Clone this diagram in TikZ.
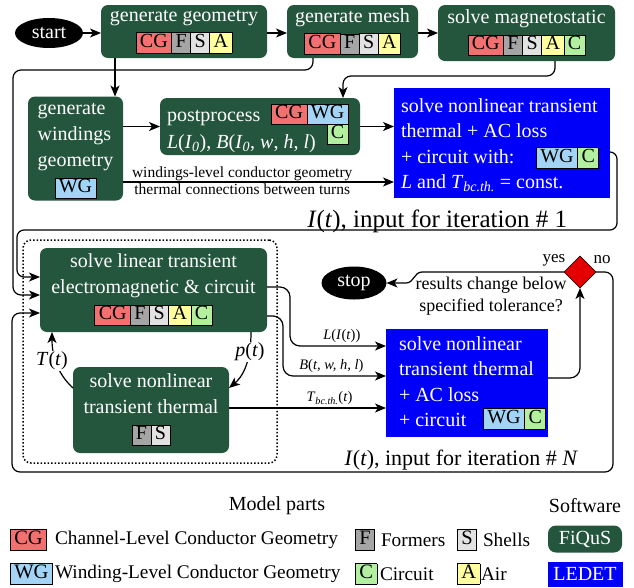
\documentclass[tikz,border=0pt]{standalone}
\usepackage{fontspec}
\setmainfont{Liberation Serif}
\usetikzlibrary{shapes.geometric,arrows.meta,calc}
\definecolor{dgreen}{RGB}{36,86,61}
\definecolor{lblue}{RGB}{0,0,250}
\definecolor{cgc}{RGB}{242,112,112}
\definecolor{fc}{RGB}{165,165,165}
\definecolor{sc}{RGB}{226,226,226}
\definecolor{ac}{RGB}{255,255,160}
\definecolor{ccol}{RGB}{178,240,160}
\definecolor{wgc}{RGB}{164,212,245}
\definecolor{redd}{RGB}{228,0,0}
\setlength{\fboxrule}{0.7pt}
\setlength{\fboxsep}{1pt}
\newcommand\fsz[2]{\fontsize{#1}{#2}\selectfont}
\newcommand\ptag[2]{\fcolorbox{black}{#1}{\color{black}\hspace{2.6pt}\rule[-4.5pt]{0pt}{15.5pt}#2\hspace{2.6pt}}}
\newcommand\tsp{\kern-0.7pt}
\begin{document}
\begin{tikzpicture}[x=1pt,y=-1pt,
 every node/.style={inner sep=0pt,outer sep=0pt},
 gbox/.style={rectangle,rounded corners=7pt,fill=dgreen,text=white,align=center,font=\fsz{20}{26}},
 bbox/.style={rectangle,fill=lblue},
 wt/.style={text=white,font=\fsz{20}{25},anchor=base west},
 oval/.style={ellipse,fill=black,text=white,font=\fsz{20}{24}},
 lbl/.style={font=\fsz{14.5}{17}},
 lgt/.style={anchor=west,font=\fsz{19.3}{24}},
 lgtag/.style={anchor=west,font=\fsz{20.5}{25}},
 arr/.style={line width=1.2pt,-{Stealth[length=11pt,width=9pt,inset=3pt]}},
]
\useasboundingbox (0,0) rectangle (634,587);
% group
\node[draw,dotted,line width=1.5pt,rounded corners=8pt,minimum width=254,minimum height=223] (grp) at (150,351.5) {};
% top row
\node[oval,minimum width=68,minimum height=30] (start) at (49,33) {start};
\node[gbox,minimum width=166,minimum height=53] (gg) at (184,31.5) {generate geometry\\\ptag{cgc}{CG}\tsp\ptag{fc}{F}\tsp\ptag{sc}{S}\tsp\ptag{ac}{A}};
\node[gbox,minimum width=131,minimum height=53] (gm) at (352.5,31.5) {generate mesh\\\ptag{cgc}{CG}\tsp\ptag{fc}{F}\tsp\ptag{sc}{S}\tsp\ptag{ac}{A}};
\node[gbox,minimum width=177,minimum height=56] (sm) at (526.5,33) {solve magnetostatic\\\ptag{cgc}{CG}\tsp\ptag{fc}{F}\tsp\ptag{sc}{S}\tsp\ptag{ac}{A}\tsp\ptag{ccol}{C}};
% second row
\node[gbox,minimum width=95,minimum height=103] (gw) at (75.5,148.5) {\begin{tabular}{@{}l@{}}generate\\windings\\geometry\\\multicolumn{1}{@{}c@{}}{\ptag{wgc}{WG}}\end{tabular}};
\node[gbox,minimum width=200,minimum height=57] (pp) at (260,126.5) {};
\node[wt] (ppa) at (167,121) {postprocess};
\node[anchor=north east,font=\fsz{20}{25}] (ppb) at (348.5,103.5) {\ptag{cgc}{CG}\tsp\ptag{wgc}{WG}};
\node[anchor=north east,font=\fsz{20}{25}] (ppc) at (348.5,123.5) {\ptag{ccol}{C}};
\node[wt] (ppd) at (167,148) {\textit{L}(\textit{I}\textsubscript{\textit{0}}), \textit{B}(\textit{I}\textsubscript{\textit{0}}, \textit{w}, \textit{h}, \textit{l})};
\node[bbox,minimum width=216,minimum height=110] (L1) at (502,143) {};
\node[wt] (L1a) at (401,112) {solve nonlinear transient};
\node[wt] (L1b) at (401,137) {thermal + AC loss};
\node[wt] (L1c) at (401,163) {+ circuit with:};
\node[wt] (L1d) at (401,188) {\textit{L} and \textit{T}\textsubscript{\textit{bc.th.}} = const.};
\node[anchor=west,font=\fsz{20}{25}] (L1t) at (536,158) {\ptag{wgc}{WG}\tsp\ptag{ccol}{C}};
\node[font=\fsz{25}{30},anchor=base east] (it1) at (567,227) {\textit{I}(\textit{t}), input for iteration \# 1};
% lower part
\node[gbox,minimum width=227,minimum height=84] (lin) at (153.5,290) {solve linear transient\\electromagnetic \& circuit\\\ptag{cgc}{CG}\tsp\ptag{fc}{F}\tsp\ptag{sc}{S}\tsp\ptag{ac}{A}\tsp\ptag{ccol}{C}};
\node[gbox,minimum width=156,minimum height=86] (th) at (151,410) {solve nonlinear\\transient thermal\\\ptag{fc}{F}\tsp\ptag{sc}{S}};
\node[bbox,minimum width=162,minimum height=108] (LN) at (467,383) {};
\node[wt] (LNa) at (399,350) {solve nonlinear};
\node[wt] (LNb) at (399,375.5) {transient thermal};
\node[wt] (LNc) at (399,401) {+ AC loss};
\node[wt] (LNd) at (399,426.5) {+ circuit};
\node[anchor=west,font=\fsz{20}{25}] (LNt) at (483,419) {\ptag{wgc}{WG}\tsp\ptag{ccol}{C}};
\node[oval,minimum width=65,minimum height=33] (stop) at (354,283) {stop};
\node[diamond,fill=redd,draw=black,line width=0.6pt,minimum width=32,minimum height=32] (dia) at (580,272) {};
\node[font=\fsz{17}{20}] (yes) at (554,260) {yes};
\node[font=\fsz{17}{20}] (no) at (602,260) {no};
\node[font=\fsz{18}{21.5},align=center] (q) at (491,296) {results change below\\specified tolerance?};
\node[font=\fsz{22}{26},anchor=base east] (itN) at (578,465) {\textit{I}(\textit{t}), input for iteration \# \textit{N}};
% helper coordinates
\coordinate (r33) at (0,33);
\coordinate (r182) at (0,182);
\coordinate (r152) at (0,152);
\coordinate (r287) at (0,287);
\coordinate (r316) at (0,316);
\coordinate (r408) at (0,408);
\coordinate (r388) at (0,388);
\coordinate (r378) at (0,378);
\coordinate (x52) at (52,0);
\coordinate (gwin) at ([xshift=-8pt]gw.north east);
\coordinate (gmout) at ([xshift=26pt]gm.south west);
\coordinate (lft1) at (13,70);
\coordinate (linin2) at ([yshift=-5pt]lin.west);
\coordinate (smout) at ([xshift=117pt]sm.south west);
\coordinate (ppin) at ([xshift=183pt]pp.north west);
\coordinate (L1out) at (L1.east |- r152);
\coordinate (rc1) at (617,230);
\coordinate (lc1) at (17,277);
\coordinate (rc2) at (613,472);
\coordinate (lc2) at (12,313);
\coordinate (ka) at (290,346);
\coordinate (kb) at (283,376);
\coordinate (linp) at ([xshift=-16pt]lin.south east);
% connectors
\draw[arr] (start) -- (gg.west |- start);
\draw[arr] (gg.east |- r33) -- (gm.west |- r33);
\draw[arr] (gm.east |- r33) -- (sm.west |- r33);
\draw[arr] (gwin |- gg.south) -- (gwin);
\draw[arr,rounded corners=8pt] (gmout) |- (lft1) |- (linin2);
\draw[arr,rounded corners=8pt] (smout) |- ($(ppin)+(0,-22)$) -- (ppin);
\draw[arr] (gw.east |- pp.west) -- (pp.west);
\draw[arr] (pp.east) -- (pp.east -| L1.west);
\draw[arr] (gw.east |- r182) -- node[pos=0.44,above=1.5pt,font=\fsz{15.5}{18}] (lab1) {windings-level conductor geometry} node[pos=0.44,below=1.5pt,font=\fsz{15.5}{18}] (lab2) {thermal connections between turns} (L1.west |- r182);
\draw[arr,rounded corners=7pt] (L1out) -| (rc1) -| (lc1) -- (lin.west |- lc1);
\draw[arr,rounded corners=8pt] (dia.east) -| (rc2) -| (lc2) -- (lin.west |- lc2);
\draw[arr,rounded corners=10pt] (lin.east |- r287) -| (ka) -- node[lbl,pos=0.54,above=3pt] (labL) {\textit{L}(\textit{I}(\textit{t}))} (LN.west |- ka);
\draw[arr,rounded corners=10pt] (lin.east |- r316) -| (kb) -- node[lbl,pos=0.47,above=3pt] (labB) {\textit{B}(\textit{t, w, h, l})} (LN.west |- kb);
\draw[arr] (th.east |- r408) -- node[lbl,pos=0.64,above=3pt] (labT) {\textit{T}\textsubscript{\textit{bc.th.}}(\textit{t})} (LN.west |- r408);
\draw[arr] (th.west |- r388) .. controls (62,378) and (52,362) .. (x52 |- lin.south);
\node[fill=white,inner sep=1pt,font=\fsz{20}{24}] (labTt) at (52,361) {\textit{T}(\textit{t})};
\draw[arr] (linp) .. controls (251,365) and (241,378) .. (th.east |- r388);
\node[fill=white,inner sep=1pt,font=\fsz{20}{24}] (labp) at (250,352) {\textit{p}(\textit{t})};
\draw[arr,rounded corners=10pt] (LN.east |- r378) -| (dia.south);
\draw[arr] (dia.west) -- (422,272) .. controls (414,272) and (414,283) .. (406,283) -- (stop.east);
% legend
\node[font=\fsz{20}{24}] (mp) at (277,506) {Model parts};
\node[font=\fsz{20}{24}] (sw) at (585,506) {Software};
\node[lgtag] (lgcg) at (10,540) {\ptag{cgc}{CG}};
\node[lgt] (lgcgt) at (55,540) {Channel-Level Conductor Geometry};
\node[lgtag] (lgf) at (355,540) {\ptag{fc}{F}};
\node[lgt] (lgft) at (381,540) {Formers};
\node[lgtag] (lgs) at (457,540) {\ptag{sc}{S}};
\node[lgt] (lgst) at (483,540) {Shells};
\node[lgtag] (lgwg) at (10,574) {\ptag{wgc}{WG}};
\node[lgt] (lgwgt) at (55,574) {Winding-Level Conductor Geometry};
\node[lgtag] (lgc) at (355,574) {\ptag{ccol}{C}};
\node[lgt] (lgct) at (380,574) {Circuit};
\node[lgtag] (lga) at (457,574) {\ptag{ac}{A}};
\node[lgt] (lgat) at (481,574) {Air};
\node[gbox,minimum width=74,minimum height=27,rounded corners=8pt] (fq) at (585,539) {FiQuS};
\node[bbox,minimum width=75,minimum height=25,text=white,font=\fsz{20}{24}] (ld) at (585,574) {LEDET};
\end{tikzpicture}
\end{document}
